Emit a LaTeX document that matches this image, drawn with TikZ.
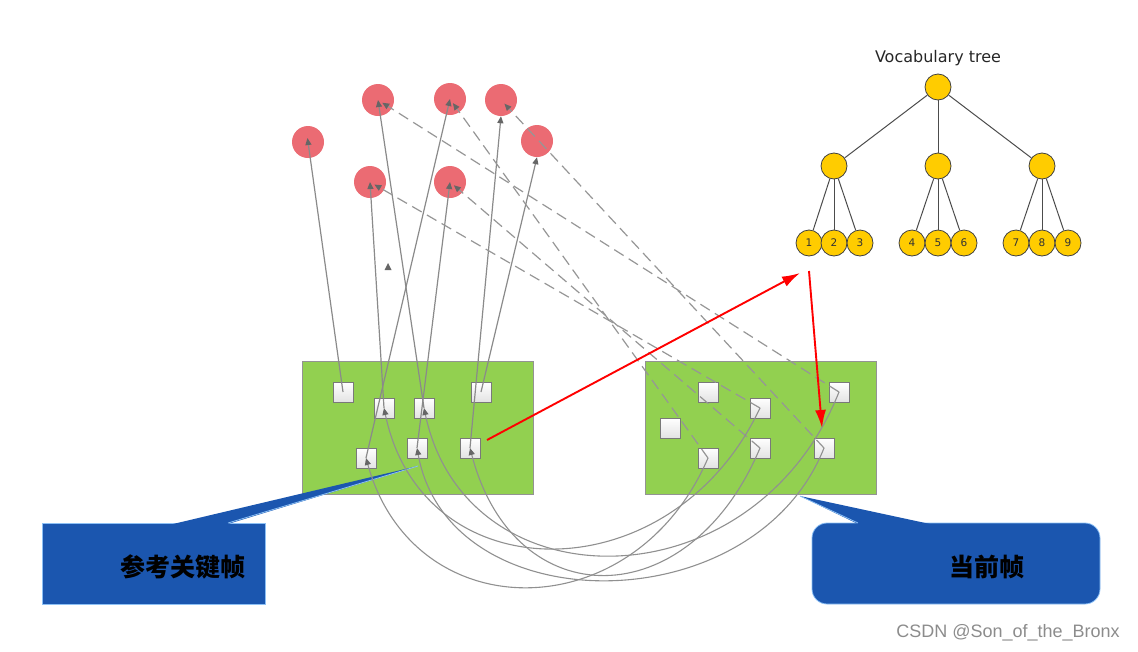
\documentclass[tikz,border=0pt]{standalone}
\usepackage{fontspec}
\setmainfont{DejaVu Sans}
\newfontfamily\cjk{Noto Sans CJK SC}
\newfontfamily\wmfont{Liberation Sans}
\usetikzlibrary{arrows.meta,calc}
\definecolor{grn}{HTML}{92D050}
\definecolor{rc}{HTML}{EB6B73}
\definecolor{gold}{HTML}{FFCC00}
\definecolor{cblue}{HTML}{1B56AF}
\definecolor{cedge}{HTML}{8CC0F5}
\definecolor{lgray}{HTML}{8A8A8A}
\definecolor{dgray}{HTML}{666666}
\begin{document}
\begin{tikzpicture}[x=1pt,y=-1pt,
  gbox/.style={draw=gray!85, fill=grn, line width=0.8pt},
  sq/.style={draw=gray!95!black, line width=0.8pt, minimum size=20pt, inner sep=0pt, top color=white, bottom color=gray!22},
  feat/.style={circle, fill=rc, minimum size=32pt, inner sep=0pt},
  tn/.style={circle, draw=black!75, fill=gold, minimum size=26pt, inner sep=0pt, line width=0.8pt, font=\fontsize{10.5}{12}\selectfont, text=black!80},
  te/.style={draw=black!70, line width=1.0pt},
  tip/.style={-{Triangle[length=7pt,width=6pt,color=dgray]}},
  sol/.style={draw=lgray, line width=1.2pt, tip},
  dsh/.style={draw=lgray!90, line width=1.2pt, dash pattern=on 11pt off 6pt, tip, shorten >=5pt},
  farc/.style={draw=lgray!95, line width=1.1pt, tip},
  redarr/.style={draw=red, line width=1.9pt, -{Latex[length=18pt,width=11pt]}},
  cjkt/.style={font=\cjk\bfseries\fontsize{25}{30}\selectfont, text=black},
]
\useasboundingbox (0,0) rectangle (1138,651);

% callouts
\draw[cedge, fill=cblue, line width=0.8pt] (42,523) rectangle (265,604);
\draw[cedge, fill=cblue, line width=0.8pt, rounded corners=15pt] (812,523) rectangle (1100,604);

% green frames
\node[gbox, minimum width=231pt, minimum height=133pt, inner sep=0pt] (kf) at (417.5,427.5) {};
\node[gbox, minimum width=231pt, minimum height=133pt, inner sep=0pt] (cf) at (760.5,427.5) {};

% pointers
\fill[cblue] (173,524) -- (418,466) -- (228,524) -- cycle;
\draw[cedge, line width=0.8pt] (228,523) -- (418,466);
\fill[cblue] (858,524) -- (800,496) -- (930,524) -- cycle;
\draw[cedge, line width=0.8pt] (800,496) -- (858,523);

\node[cjkt] (t1) at (183,567) {参考关键帧};
\node[cjkt] (t2) at (987,567) {当前帧};

% squares, left frame
\node[sq] (S1) at (343,392) {};
\node[sq] (S2) at (384,408) {};
\node[sq] (S3) at (424,408) {};
\node[sq] (S4) at (481,392) {};
\node[sq] (S5) at (366,458) {};
\node[sq] (S6) at (417,448) {};
\node[sq] (S7) at (470,448) {};
% squares, right frame
\node[sq] (R1) at (708,392) {};
\node[sq] (R2) at (670,428) {};
\node[sq] (R3) at (760,408) {};
\node[sq] (R4) at (839,392) {};
\node[sq] (R5) at (708,458) {};
\node[sq] (R6) at (760,448) {};
\node[sq] (R7) at (824,448) {};

% red features
\node[feat] (C1) at (308,142) {};
\node[feat] (C2) at (378,100) {};
\node[feat] (C3) at (450,99) {};
\node[feat] (C4) at (501,100) {};
\node[feat] (C5) at (537,141) {};
\node[feat] (C6) at (370,182) {};
\node[feat] (C7) at (450,182) {};

% solid arrows from reference keyframe features to map points
\draw[sol, shorten >=-4pt] (S1.center) -- (C1.center);
\draw[sol] (S3.center) -- (C2.center);
\draw[sol] (S5.center) -- (C3.center);
\draw[sol] (S7.center) -- (C4.south);
\draw[sol] (S4.center) -- (C5.south);
\draw[sol] (S2.center) -- (C6.center);
\draw[sol] (S6.center) -- (C7.center);

% dashed arrows from current frame features to map points
\draw[dsh] (R4.center) -- (C2.center);
\draw[dsh] (R5.center) -- (C3.center);
\draw[dsh] (R7.center) -- (C4.center);
\draw[dsh] (R3.center) -- (C6.center);
\draw[dsh] (R6.center) -- (C7.center);

% matching arcs
\draw[farc] (R5.center) .. controls (634,630) and (414,630) .. (S5.center);
\draw[farc] (R7.center) .. controls (754,624) and (449,624) .. (S6.center);
\draw[farc] (R6.center) .. controls (689,617) and (514,617) .. (S7.center);
\draw[farc] (R3.center) .. controls (672,595) and (423,595) .. (S2.center);
\draw[farc] (R4.center) .. controls (753,607) and (466,607) .. (S3.center);

% stray arrowhead
\fill[dgray] (384.5,270) -- (391.5,270) -- (388,263) -- cycle;

% vocabulary tree
\node[font=\fontsize{16}{19}\selectfont, text=black!85] (vt) at (938,58) {Vocabulary tree};
\node[tn] (root) at (938,87) {};
\node[tn] (a) at (834,166) {};
\node[tn] (b) at (938,166) {};
\node[tn] (c) at (1042,166) {};
\node[tn] (l1) at (809,243) {1};
\node[tn] (l2) at (834,243) {2};
\node[tn] (l3) at (860,243) {3};
\node[tn] (l4) at (912,243) {4};
\node[tn] (l5) at (938,243) {5};
\node[tn] (l6) at (964,243) {6};
\node[tn] (l7) at (1016,243) {7};
\node[tn] (l8) at (1042,243) {8};
\node[tn] (l9) at (1068,243) {9};
\draw[te] (root) -- (a);
\draw[te] (root) -- (b);
\draw[te] (root) -- (c);
\draw[te] (a) -- (l1);
\draw[te] (a) -- (l2);
\draw[te] (a) -- (l3);
\draw[te] (b) -- (l4);
\draw[te] (b) -- (l5);
\draw[te] (b) -- (l6);
\draw[te] (c) -- (l7);
\draw[te] (c) -- (l8);
\draw[te] (c) -- (l9);

% red arrows
\coordinate (ra) at (487,440);
\coordinate (rb) at (800,273);
\coordinate (rc2) at (809,271);
\coordinate (rd) at (822,428);
\draw[redarr] (ra) -- (rb);
\draw[redarr] (rc2) -- (rd);

% watermark
\node[font=\wmfont\fontsize{18}{21}\selectfont, text=gray!90] (wm) at (1008,633) {CSDN @Son\_of\_the\_Bronx};
\end{tikzpicture}
\end{document}
